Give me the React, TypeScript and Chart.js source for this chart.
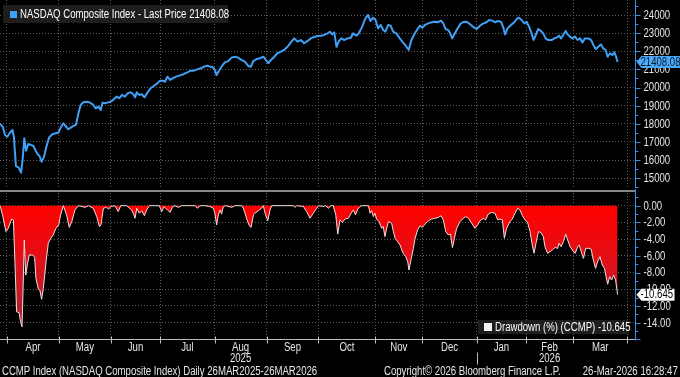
import React, { useEffect, useRef } from 'react';
import { Chart, registerables } from 'chart.js';

Chart.register(...registerables);

const FONT = '"Liberation Sans", Arial, sans-serif';

// x positions are trading-day positions (0 = 26 Mar 2025, 251 = 26 Mar 2026)
const priceDays = [
  1.2, 2.3, 3.2, 4.1, 5.2, 6.2, 6.8, 7.6, 8.7, 9.7,
  10.3, 11.0, 11.7, 12.6, 13.7, 14.7, 15.6, 16.4, 17.1, 18.0,
  19.0, 20.0, 21.1, 22.5, 23.8, 24.8, 25.7, 26.8, 27.7, 28.8,
  29.8, 30.8, 31.9, 32.9, 33.8, 34.9, 36.0, 37.3, 38.7, 39.9,
  41.0, 41.9, 42.7, 43.6, 44.6, 46.0, 47.3, 48.4, 49.4, 50.5,
  51.7, 52.8, 54.0, 55.1, 55.8, 56.5, 57.4, 58.5, 59.6, 60.8,
  62.1, 63.5, 64.8, 65.9, 67.0, 67.9, 68.9, 70.0, 71.0, 72.4,
  74.0, 75.6, 77.0, 78.3, 79.6, 81.0, 82.4, 83.7, 85.0, 86.1,
  87.0, 87.9, 88.8, 89.7, 90.8, 92.1, 93.5, 94.8, 96.2, 97.5,
  98.9, 100.2, 101.6, 102.7, 103.6, 105.0, 106.3, 107.7, 108.7, 109.7,
  110.8, 112.1, 113.4, 114.8, 116.1, 117.5, 118.8, 120.2, 121.5, 122.9,
  124.2, 125.6, 126.9, 128.3, 129.6, 131.0, 132.3, 133.7, 134.6, 135.6,
  136.4, 137.3, 138.3, 139.3, 140.4, 141.7, 143.1, 144.0, 145.4, 146.3,
  147.7, 149.0, 150.1, 151.0, 152.1, 153.1, 154.1, 155.2, 156.2, 157.1,
  158.2, 159.2, 160.2, 161.5, 162.9, 164.2, 165.6, 166.5, 167.6, 169.0,
  170.2, 171.1, 172.0, 173.1, 174.4, 175.8, 177.1, 178.2, 179.6, 180.5,
  181.4, 182.5, 183.3, 184.1, 185.2, 186.3, 187.6, 189.0, 190.3, 191.7,
  193.0, 194.0, 195.3, 196.7, 198.0, 199.0, 200.3, 201.4, 202.5, 203.8,
  204.8, 205.5, 206.5, 207.9, 209.2, 210.2, 211.1, 212.2, 213.3, 214.2,
  215.2, 216.2, 217.0, 217.8, 218.9, 220.0, 220.9, 221.9, 223.0, 224.3,
  225.4, 226.3, 227.3, 228.1, 229.0, 230.0, 230.8, 231.7, 232.7, 233.8,
  234.8, 235.8, 236.8, 237.8, 239.2, 240.3, 241.2, 242.2, 243.2, 244.3,
  245.2, 246.2, 247.0, 248.0, 248.9, 249.7, 250.4, 251.0,
];

const priceValues = [
  18000, 17840, 17380, 17290, 17510, 17660, 17290, 15670, 15600, 15310,
  16000, 17200, 16520, 16890, 16830, 16780, 16520, 16320, 16240, 15910,
  16190, 16780, 17260, 17440, 17480, 17510, 17790, 18030, 17880, 17700,
  17790, 17880, 17940, 18580, 19040, 19190, 19220, 19190, 19070, 18850,
  18950, 18760, 19170, 19130, 19170, 19220, 19370, 19500, 19410, 19590,
  19500, 19680, 19740, 19630, 19460, 19740, 19590, 19630, 19460, 19720,
  19960, 20100, 20230, 20380, 20380, 20320, 20600, 20420, 20510, 20600,
  20670, 20750, 20840, 20930, 20930, 21000, 21060, 21150, 21210, 21150,
  21150, 21020, 20690, 20910, 21150, 21390, 21460, 21650, 21700, 21650,
  21520, 21430, 21190, 21150, 21460, 21570, 21610, 21700, 21520, 21340,
  21520, 21700, 21890, 21980, 22070, 22250, 22490, 22710, 22530, 22620,
  22440, 22570, 22710, 22790, 22840, 22860, 22900, 22990, 23080, 22930,
  23040, 22250, 22570, 22710, 22620, 22710, 22750, 22990, 22860, 22990,
  23360, 23820, 24000, 23670, 23850, 23720, 23270, 23450, 23170, 23080,
  23450, 23410, 23080, 22990, 22710, 22490, 22250, 22070, 22620, 22990,
  23250, 23410, 23300, 23450, 23540, 23600, 23630, 23600, 23690, 23540,
  23230, 23170, 22990, 22710, 22990, 23270, 23540, 23630, 23600, 23450,
  23300, 23230, 23410, 23540, 23600, 23720, 23690, 23600, 23670, 23630,
  23300, 22930, 23270, 23450, 23600, 23780, 23850, 23720, 23540, 23630,
  23360, 22990, 22620, 22860, 23230, 23120, 22990, 22710, 22620, 22620,
  22710, 22750, 22860, 22710, 22900, 23120, 22930, 22810, 22710, 22810,
  22620, 22710, 22490, 22710, 22710, 22620, 22350, 22130, 22250, 22380,
  22160, 22070, 21700, 21890, 21790, 21940, 21700, 21408.08,
];

const drawdownDays = [
  1.2, 2.2, 3.6, 4.5, 5.9, 6.6, 7.2, 7.9, 8.9, 9.5,
  10.1, 11.0, 11.6, 12.2, 13.0, 14.4, 15.2, 15.7, 16.7, 17.3,
  18.0, 18.7, 19.8, 20.7, 21.7, 22.7, 23.8, 24.9, 25.7, 26.8,
  28.1, 29.2, 30.2, 31.5, 32.9, 35.6, 36.9, 38.9, 40.3, 41.4,
  42.0, 43.0, 44.3, 45.0, 46.1, 47.7, 49.0, 50.0, 52.4, 54.4,
  55.1, 55.8, 56.5, 57.5, 58.5, 59.6, 60.5, 61.6, 65.6, 66.6,
  67.5, 68.9, 70.0, 71.0, 72.0, 73.3, 74.7, 80.1, 81.0, 82.1,
  84.1, 86.1, 87.5, 88.1, 88.8, 89.5, 90.2, 90.8, 91.5, 92.5,
  94.9, 96.2, 98.9, 99.6, 100.3, 100.9, 101.9, 102.7, 103.7, 104.3,
  105.7, 107.0, 107.7, 108.4, 109.5, 110.4, 111.1, 119.8, 120.5, 121.2,
  123.9, 125.2, 126.6, 127.9, 129.3, 130.0, 132.0, 132.9, 134.0, 135.1,
  136.0, 137.0, 137.8, 138.7, 139.7, 140.7, 142.1, 143.2, 144.1, 145.0,
  145.9, 146.8, 147.5, 150.2, 150.9, 151.5, 152.2, 152.9, 153.5, 154.5,
  155.6, 156.2, 156.9, 157.6, 158.3, 159.6, 160.3, 161.0, 162.0, 163.0,
  163.7, 164.3, 165.3, 166.1, 166.6, 167.4, 168.4, 169.1, 170.1, 171.1,
  172.0, 173.1, 174.5, 175.8, 177.1, 178.5, 179.6, 180.5, 181.5, 182.5,
  183.4, 184.2, 185.0, 185.9, 187.3, 188.6, 189.6, 190.6, 192.0, 193.3,
  194.4, 195.4, 196.7, 197.6, 198.7, 200.1, 201.4, 202.5, 203.4, 204.4,
  205.2, 206.1, 207.5, 208.4, 209.5, 210.6, 211.5, 212.5, 213.6, 214.6,
  215.6, 216.5, 217.2, 218.0, 219.0, 220.0, 221.0, 221.6, 222.7, 223.7,
  224.6, 225.7, 226.8, 227.3, 228.1, 229.1, 230.0, 230.8, 231.8, 232.7,
  233.8, 234.9, 235.5, 236.5, 237.2, 238.1, 239.2, 240.3, 241.2, 242.1,
  242.9, 243.9, 244.8, 245.7, 246.2, 247.0, 247.8, 248.6, 249.4, 250.2,
  251.0,
];

const drawdownValues = [
  0, -1.1, -3.1, -2.7, -1.6, -1.7, -6.7, -12.7, -12.8, -13.9,
  -14.5, -4.1, -8.3, -7.1, -5.9, -5.9, -6.2, -8.7, -10.0, -10.1,
  -11.2, -9.9, -6.7, -4.5, -3.9, -3.5, -2.7, -2.3, -1.1, 0,
  -1.1, -2.6, -1.9, -0.5, 0, -0.2, 0, -0.3, -1.3, -2.5,
  -2.3, -0.3, -0.2, -0.4, -0.1, 0, -0.7, 0, 0, -0.5,
  -0.9, -1.5, -0.3, -0.9, -0.6, -1.2, -0.5, 0, 0, -0.7,
  -0.1, -0.5, -0.8, -0.1, 0, -0.2, 0, 0, -0.3, 0,
  0, -0.1, -0.3, -0.9, -2.3, -1.1, -0.5, -1.0, -0.1, 0,
  -0.2, 0, 0, -0.3, -0.9, -1.5, -2.3, -2.6, -1.1, -0.9,
  -0.6, -0.3, 0, -0.9, -1.8, -0.5, 0, 0, -0.2, 0,
  -0.1, -0.7, -1.5, -0.9, -0.3, 0, -0.1, 0, -0.3, 0,
  0, -1.1, -3.4, -1.7, -2.0, -1.6, -1.5, -0.9, -0.5, -1.1,
  -0.4, -0.1, 0, 0, -0.9, -0.6, -1.3, -0.9, -1.6, -1.9,
  -2.7, -2.5, -3.7, -2.7, -1.9, -2.1, -3.1, -3.9, -4.3, -4.7,
  -5.3, -5.7, -6.1, -6.7, -7.7, -6.5, -5.1, -3.9, -2.9, -2.4,
  -2.6, -2.2, -1.8, -1.6, -1.5, -1.4, -1.2, -1.7, -3.1, -3.5,
  -3.4, -5.0, -3.9, -2.7, -1.9, -1.5, -1.3, -1.5, -2.1, -2.7,
  -2.3, -1.8, -1.5, -1.7, -1.0, -0.8, -0.9, -1.7, -1.6, -1.7,
  -3.9, -2.7, -1.9, -1.6, -0.9, -0.3, -0.5, -1.2, -1.7, -2.0,
  -3.1, -4.7, -5.7, -4.5, -3.1, -3.2, -3.7, -4.9, -5.7, -5.5,
  -5.3, -5.0, -5.1, -4.5, -4.9, -4.3, -3.4, -4.1, -4.9, -5.3,
  -5.7, -4.9, -4.7, -5.7, -6.3, -5.1, -5.1, -5.2, -6.5, -7.5,
  -6.7, -6.1, -7.1, -7.5, -8.3, -9.4, -8.5, -8.9, -8.3, -8.9,
  -10.645,
];

const monthStartDays = [4, 25, 46, 66, 88, 109, 130, 153, 172, 194, 214, 233, 255];
const monthLabelDays = [14.5, 35.5, 56, 77, 98.5, 119.5, 141.5, 162.5, 183, 204, 223.5, 244];
const monthLabels = ['Apr', 'May', 'Jun', 'Jul', 'Aug', 'Sep', 'Oct', 'Nov', 'Dec', 'Jan', 'Feb', 'Mar'];
const yearLabels = ['', '', '', '', '2025', '', '', '', '', '', '2026', ''];
const yearBreakDay = 194;

const priceTicks = [15000, 16000, 17000, 18000, 19000, 20000, 21000, 22000, 23000, 24000];
const drawdownTicks = [0, -2, -4, -6, -8, -10, -12, -14];

const LAST_PRICE = 21408.08;
const LAST_DRAWDOWN = -10.645;
const PRICE_LEGEND = 'NASDAQ Composite Index - Last Price 21408.08';
const DRAWDOWN_LEGEND = 'Drawdown (%) (CCMP) -10.645';
const FOOTER_LEFT = 'CCMP Index (NASDAQ Composite Index) Daily 26MAR2025-26MAR2026';
const FOOTER_MID = 'Copyright\u00A9 2026 Bloomberg Finance L.P.';
const FOOTER_RIGHT = '26-Mar-2026 16:28:47';

const X_MIN = 1.17;
const X_MAX = 258.05;
const PRICE_MIN = 14462;
const PRICE_MAX = 24827;
const DD_MIN = -16;
const DD_MAX = 1.52;

const GRID = '#5e5e5e';
const AXIS_BLUE = '#3b8ede';
const LINE_BLUE = '#3fa0f5';
const TEXT = '#e6e6e6';
const SQUEEZE = 0.8;

function xGridScale() {
  return {
    type: 'linear' as const,
    min: X_MIN,
    max: X_MAX,
    position: 'bottom' as const,
    afterBuildTicks: (s: any) => { s.ticks = monthStartDays.map((v) => ({ value: v })); },
    ticks: { display: false },
    grid: { color: GRID, drawTicks: false, lineWidth: 1 },
    border: { display: false, dash: [1, 2] },
    afterFit: (s: any) => { s.height = 0; },
  };
}

function yScale(min: number, max: number, ticks: number[]) {
  return {
    type: 'linear' as const,
    position: 'right' as const,
    min,
    max,
    afterBuildTicks: (s: any) => { s.ticks = ticks.map((v) => ({ value: v })); },
    ticks: { display: false },
    grid: { color: GRID, drawTicks: false, lineWidth: 1 },
    border: { display: false, dash: [1, 2] },
    afterFit: (s: any) => { s.width = 45; },
  };
}

function line(ctx: CanvasRenderingContext2D, x1: number, y1: number, x2: number, y2: number) {
  ctx.beginPath();
  ctx.moveTo(x1, y1);
  ctx.lineTo(x2, y2);
  ctx.stroke();
}

function ctext(ctx: CanvasRenderingContext2D, text: string, x: number, y: number, align: CanvasTextAlign, color: string, size = 12) {
  ctx.save();
  ctx.font = `${size}px ${FONT}`;
  ctx.fillStyle = color;
  ctx.textAlign = align;
  ctx.textBaseline = 'middle';
  ctx.translate(x, y);
  ctx.scale(SQUEEZE, 1);
  ctx.fillText(text, 0, 0);
  ctx.restore();
}

function tag(ctx: CanvasRenderingContext2D, x0: number, yc: number, w: number, h: number, bg: string, fg: string, text: string) {
  ctx.fillStyle = bg;
  ctx.beginPath();
  ctx.moveTo(x0, yc);
  ctx.lineTo(x0 + 5, yc - h / 2);
  ctx.lineTo(x0 + w, yc - h / 2);
  ctx.lineTo(x0 + w, yc + h / 2);
  ctx.lineTo(x0 + 5, yc + h / 2);
  ctx.closePath();
  ctx.fill();
  ctext(ctx, text, x0 + 4, yc + 0.5, 'left', fg);
}

const topDecor = {
  id: 'topDecor',
  afterDraw(chart: any) {
    const { ctx, chartArea: a, scales } = chart;
    const y = scales.y;
    const ax = Math.round(a.right) + 0.5;
    ctx.save();
    ctx.strokeStyle = AXIS_BLUE;
    ctx.lineWidth = 1;
    line(ctx, ax, 0, ax, chart.height);
    priceTicks.forEach((v) => {
      const py = Math.round(y.getPixelForValue(v)) + 0.5;
      line(ctx, ax, py, ax + 5, py);
      const pm = Math.round(y.getPixelForValue(v + 500)) + 0.5;
      if (pm > 0) line(ctx, ax, pm, ax + 3, pm);
    });
    const pm0 = Math.round(y.getPixelForValue(14500)) + 0.5;
    line(ctx, ax, pm0, ax + 3, pm0);
    priceTicks.forEach((v) => {
      ctext(ctx, String(v), ax + 8, y.getPixelForValue(v) + 0.5, 'left', TEXT);
    });
    tag(ctx, ax + 1, y.getPixelForValue(LAST_PRICE), 680 - ax, 12, '#4aa8f7', '#061a2e', LAST_PRICE.toFixed(2));
    ctx.restore();
  },
};

const bottomDecor = {
  id: 'bottomDecor',
  afterDraw(chart: any) {
    const { ctx, chartArea: a, scales } = chart;
    const y = scales.y;
    const xs = scales.x;
    const ax = Math.round(a.right) + 0.5;
    ctx.save();
    // separator bar between panels
    ctx.fillStyle = '#868686';
    ctx.fillRect(0, 1, Math.round(a.right), 2);
    // x axis line and month ticks
    const by = Math.round(a.bottom) + 0.5;
    ctx.strokeStyle = '#bdbdbd';
    ctx.lineWidth = 1;
    line(ctx, 0, by, ax, by);
    monthStartDays.forEach((d) => {
      const px = Math.round(xs.getPixelForValue(d)) + 0.5;
      line(ctx, px, by - 3, px, by + 4);
    });
    const yb = Math.round(xs.getPixelForValue(yearBreakDay)) + 0.5;
    line(ctx, yb, by + 13, yb, by + 25);
    monthLabelDays.forEach((d, i) => {
      const px = xs.getPixelForValue(d);
      ctext(ctx, monthLabels[i], px, by + 8, 'center', TEXT);
      if (yearLabels[i]) ctext(ctx, yearLabels[i], px, by + 19.5, 'center', TEXT);
    });
    // right axis
    ctx.strokeStyle = AXIS_BLUE;
    line(ctx, ax, 0, ax, by + 1);
    [...drawdownTicks, DD_MIN].forEach((v) => {
      const py = Math.round(y.getPixelForValue(v)) + 0.5;
      line(ctx, ax, py, ax + 5, py);
    });
    [-1, -3, -5, -7, -9, -11, -13, -15, 1].forEach((v) => {
      const py = Math.round(y.getPixelForValue(v)) + 0.5;
      line(ctx, ax, py, ax + 3, py);
    });
    drawdownTicks.forEach((v) => {
      ctext(ctx, v.toFixed(2), ax + 8, y.getPixelForValue(v) + 0.5, 'left', TEXT);
    });
    tag(ctx, ax + 1, y.getPixelForValue(LAST_DRAWDOWN), 38, 12, '#ffffff', '#000000', LAST_DRAWDOWN.toFixed(3));
    ctx.restore();
  },
};

export default function App() {
  const topRef = useRef<HTMLCanvasElement>(null);
  const botRef = useRef<HTMLCanvasElement>(null);

  useEffect(() => {
    Chart.defaults.font.family = FONT;
    const priceData = priceDays.map((d, i) => ({ x: d, y: priceValues[i] }));
    const ddData = drawdownDays.map((d, i) => ({ x: d, y: drawdownValues[i] }));

    const top = new Chart(topRef.current!, {
      type: 'line',
      data: {
        datasets: [
          {
            data: priceData,
            borderColor: LINE_BLUE,
            borderWidth: 2,
            pointRadius: 0,
            tension: 0,
            fill: false,
            borderJoinStyle: 'round',
          },
        ],
      },
      options: {
        animation: false,
        responsive: false,
        maintainAspectRatio: false,
        layout: { padding: 0, autoPadding: false },
        plugins: { legend: { display: false }, tooltip: { enabled: false } },
        scales: {
          x: xGridScale(),
          y: yScale(PRICE_MIN, PRICE_MAX, priceTicks),
        },
      } as any,
      plugins: [topDecor],
    });

    const bot = new Chart(botRef.current!, {
      type: 'line',
      data: {
        datasets: [
          {
            data: ddData,
            borderColor: '#f2dede',
            borderWidth: 1,
            pointRadius: 0,
            tension: 0,
            fill: 'origin',
            backgroundColor: (c: any) => {
              const ch = c.chart;
              if (!ch.chartArea) return '#ff0000';
              const ys = ch.scales.y;
              const g = ch.ctx.createLinearGradient(0, ys.getPixelForValue(0), 0, ys.getPixelForValue(-15));
              g.addColorStop(0, '#ff0000');
              g.addColorStop(0.45, '#e01018');
              g.addColorStop(1, '#9a2a3a');
              return g;
            },
          },
        ],
      },
      options: {
        animation: false,
        responsive: false,
        maintainAspectRatio: false,
        layout: { padding: { top: 4, left: 0, right: 0, bottom: 37.6 }, autoPadding: false },
        plugins: { legend: { display: false }, tooltip: { enabled: false } },
        scales: {
          x: xGridScale(),
          y: yScale(DD_MIN, DD_MAX, drawdownTicks),
        },
      } as any,
      plugins: [bottomDecor],
    });

    return () => {
      top.destroy();
      bot.destroy();
    };
  }, []);

  const squeeze = (origin: string): React.CSSProperties => ({
    display: 'inline-block',
    transform: `scaleX(${SQUEEZE})`,
    transformOrigin: origin,
    whiteSpace: 'nowrap',
  });

  const footerStyle: React.CSSProperties = {
    position: 'absolute',
    top: 365,
    fontSize: 12,
    lineHeight: '12px',
    color: TEXT,
    whiteSpace: 'nowrap',
  };

  return (
    <div
      style={{
        position: 'fixed',
        left: 0,
        top: 0,
        width: 680,
        height: 377,
        background: '#000',
        overflow: 'hidden',
        fontFamily: FONT,
      }}
    >
      <canvas ref={topRef} width={680} height={188} style={{ position: 'absolute', left: 0, top: 0, width: 680, height: 188 }} />
      <canvas ref={botRef} width={680} height={188} style={{ position: 'absolute', left: 0, top: 189, width: 680, height: 188 }} />
      <div
        style={{
          position: 'absolute',
          left: 3,
          top: 5,
          width: 225,
          height: 18,
          background: '#1e1e1e',
          color: '#ffffff',
          fontSize: 12,
          lineHeight: '18px',
        }}
      >
        <span style={{ position: 'absolute', left: 7, top: 6, width: 7, height: 7, background: LINE_BLUE }} />
        <span style={{ position: 'absolute', left: 17, top: 0, ...squeeze('left center') }}>{PRICE_LEGEND}</span>
      </div>
      <div
        style={{
          position: 'absolute',
          left: 478,
          top: 320,
          width: 151,
          height: 14,
          background: '#1e1e1e',
          color: '#ffffff',
          fontSize: 12,
          lineHeight: '14px',
        }}
      >
        <span style={{ position: 'absolute', left: 6, top: 3, width: 8, height: 8, background: '#f4f4f4' }} />
        <span style={{ position: 'absolute', left: 17, top: 0, ...squeeze('left center') }}>{DRAWDOWN_LEGEND}</span>
      </div>
      <div style={{ ...footerStyle, left: 2 }}>
        <span style={squeeze('left center')}>{FOOTER_LEFT}</span>
      </div>
      <div style={{ ...footerStyle, left: 384 }}>
        <span style={squeeze('left center')}>{FOOTER_MID}</span>
      </div>
      <div style={{ ...footerStyle, right: 2 }}>
        <span style={squeeze('right center')}>{FOOTER_RIGHT}</span>
      </div>
    </div>
  );
}
